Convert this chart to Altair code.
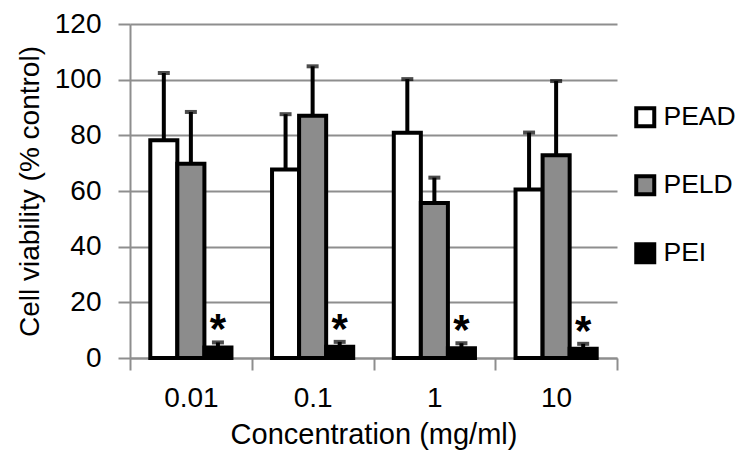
import altair as alt
import pandas as pd

concentrations = ["0.01", "0.1", "1", "10"]
series = ["PEAD", "PELD", "PEI"]
pead = [78.2, 67.7, 80.9, 60.5]
pead_err_top = [102.4, 87.6, 100.2, 81.0]
peld = [69.8, 87.0, 55.7, 72.8]
peld_err_top = [88.4, 104.8, 64.8, 99.5]
pei = [3.8, 4.0, 3.5, 3.3]
pei_err_top = [5.6, 5.8, 5.3, 5.1]
star = {"PEAD": "", "PELD": "", "PEI": "*"}
fills = ["#ffffff", "#8c8c8c", "#000000"]

rows = []
for name, vals, tops in [("PEAD", pead, pead_err_top), ("PELD", peld, peld_err_top), ("PEI", pei, pei_err_top)]:
    for c, v, t in zip(concentrations, vals, tops):
        rows.append({"conc": c, "series": name, "value": v, "top": t, "star": star[name]})
df = pd.DataFrame(rows)

FONT = "Liberation Sans"
GRAY = "#8e8e8e"

x = alt.X("conc:N", sort=concentrations,
          scale=alt.Scale(paddingInner=0, paddingOuter=0),
          axis=alt.Axis(title="Concentration (mg/ml)", labelAngle=0, tickBand="extent",
                        tickSize=12, tickColor=GRAY, tickWidth=2, domainColor=GRAY, domainWidth=2,
                        labelFontSize=28, labelPadding=14, labelColor="black",
                        titleFontSize=29, titleFontWeight="normal", titlePadding=8, titleColor="black",
                        grid=False))
xo = alt.XOffset("series:N", sort=series, scale=alt.Scale(paddingInner=0, paddingOuter=0.75))
yscale = alt.Scale(domain=[0, 120])
yaxis = alt.Axis(title="Cell viability (% control)", values=[0, 20, 40, 60, 80, 100, 120],
                 tickSize=12, tickColor=GRAY, tickWidth=2, domainColor=GRAY, domainWidth=2,
                 gridColor=GRAY, gridWidth=2, labelFontSize=28, labelPadding=17, labelColor="black",
                 titleFontSize=28, titleFontWeight="normal", titlePadding=10, titleColor="black")

base = alt.Chart(df)

rules = base.mark_rule(color="black", strokeWidth=4).encode(
    x=x, xOffset=xo,
    y=alt.Y("value:Q", scale=yscale, axis=yaxis),
    y2="top:Q",
)
caps = base.mark_tick(color="black", size=12, thickness=4, orient="horizontal").encode(
    x=x, xOffset=xo, y=alt.Y("top:Q", scale=yscale),
)
bars = base.mark_bar(stroke="black", strokeWidth=4).encode(
    x=x, xOffset=xo,
    y=alt.Y("value:Q", scale=yscale, axis=yaxis),
    fill=alt.Fill("series:N", sort=series,
                  scale=alt.Scale(domain=series, range=fills),
                  legend=alt.Legend(title=None, orient="none", legendX=502, legendY=80,
                                    symbolType="square", symbolSize=324,
                                    symbolStrokeColor="black", symbolStrokeWidth=4,
                                    labelFontSize=26.5, labelOffset=5, rowPadding=33,
                                    labelColor="black")),
)
stars = base.transform_filter("datum.star != ''").mark_text(
    fontSize=42, fontWeight="bold", baseline="alphabetic", color="black", font=FONT, dy=1
).encode(
    x=x, xOffset=xo, y=alt.Y("top:Q", scale=yscale), text="star:N",
)

chart = alt.layer(rules, bars, caps, stars).properties(
    width=487, height=334,
    padding={"left": 122, "top": 16, "right": 123, "bottom": 94},
    autosize=alt.AutoSizeParams(type="none"),
    background="white",
).configure(font=FONT).configure_view(stroke=None)

chart.save("out.html", embed_options={"renderer": "svg", "actions": False})
